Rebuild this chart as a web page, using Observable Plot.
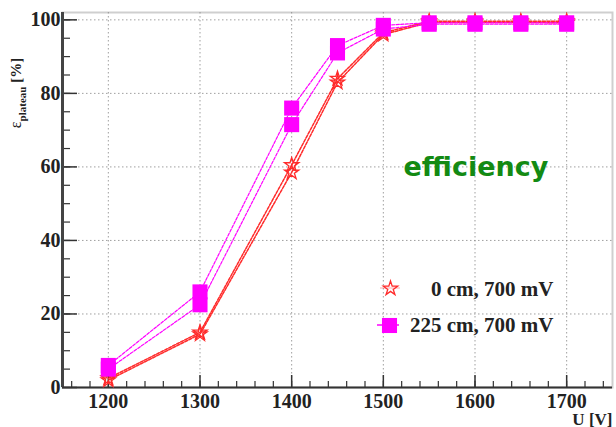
<!DOCTYPE html>
<html>
<head>
<meta charset="utf-8">
<script src="https://cdn.jsdelivr.net/npm/d3@7"></script>
<script src="https://cdn.jsdelivr.net/npm/@observablehq/plot@0.6"></script>
<style>
  html, body { margin: 0; padding: 0; background: #fff; }
</style>
</head>
<body>
<div id="chart"></div>
<script>
// ---- data ----
const voltages = [1200, 1300, 1400, 1450, 1500, 1550, 1600, 1650, 1700];
const eff0cmA   = [2.5, 15.0, 60.5, 84.0, 96.5, 99.6, 99.6, 99.6, 99.6];
const eff0cmB   = [2.0, 14.5, 58.5, 83.0, 96.0, 99.3, 99.3, 99.3, 99.2];
const eff225cmA = [6.0, 26.0, 76.0, 93.0, 98.5, 99.2, 99.2, 99.2, 99.2];
const eff225cmB = [5.0, 22.5, 71.5, 91.0, 97.5, 98.8, 98.8, 98.8, 98.8];

const xDomain = [1150, 1750];
const yDomain = [0, 102];
const xMajor = [1200, 1300, 1400, 1500, 1600, 1700];
const xMinor = d3.range(1160, 1750, 20);
const yMajor = [0, 20, 40, 60, 80, 100];
const yMinor = d3.range(0, 101, 5);
const legendLabels = ["0 cm, 700 mV", "225 cm, 700 mV"];
const xTitle = "U [V]";
const note = "efficiency";

const RED = "#ff2a2a";
const MAG = "#ff00ff";

const stars = [];
const squares = [];
voltages.forEach((v, i) => {
  stars.push({U: v, e: eff0cmA[i], s: "A"});
  stars.push({U: v, e: eff0cmB[i], s: "B"});
  squares.push({U: v, e: eff225cmA[i], s: "A"});
  squares.push({U: v, e: eff225cmB[i], s: "B"});
});

const W = 616, H = 427;
const mL = 62, mR = 4, mT = 12, mB = 40;
const fw = W - mL - mR, fh = H - mT - mB;
const serif = "Liberation Serif, Times New Roman, serif";

const chart = Plot.plot({
  width: W, height: H,
  marginLeft: mL, marginRight: mR, marginTop: mT, marginBottom: mB,
  x: {domain: xDomain},
  y: {domain: yDomain},
  style: {background: "#fff", fontFamily: serif, color: "#222"},
  marks: [
    Plot.frame({stroke: "#cfcfcf", strokeWidth: 2}),
    // dotted grid
    Plot.gridX(xMajor, {stroke: "#888", strokeOpacity: 0.8, strokeDasharray: "1.5,2.5", strokeWidth: 1}),
    Plot.gridY(yMajor.filter(d => d > 0), {stroke: "#888", strokeOpacity: 0.8, strokeDasharray: "1.5,2.5", strokeWidth: 1}),
    // inward ticks
    Plot.ruleX(xMinor, {stroke: "#333", strokeWidth: 1.2, insetTop: fh - 6}),
    Plot.ruleX(xMajor, {stroke: "#333", strokeWidth: 1.5, insetTop: fh - 12}),
    Plot.ruleY(yMinor, {stroke: "#333", strokeWidth: 1.2, insetRight: fw - 8}),
    Plot.ruleY(yMajor, {stroke: "#333", strokeWidth: 1.5, insetRight: fw - 15}),
    // axis lines
    Plot.ruleX([xDomain[0]], {stroke: "#444", strokeWidth: 3}),
    Plot.ruleY([yDomain[0]], {stroke: "#333", strokeWidth: 2}),
    // tick labels
    Plot.axisX(xMajor, {tickSize: 0, tickPadding: 6, fontSize: 20, fontWeight: "bold", label: null, tickFormat: d => String(d)}),
    Plot.axisY(yMajor, {tickSize: 0, tickPadding: 2, fontSize: 20, fontWeight: "bold", label: null, tickFormat: d => String(d)}),
    // series lines
    Plot.line(stars, {x: "U", y: "e", z: "s", stroke: RED, strokeWidth: 1.5, strokeDasharray: "3,1.5"}),
    Plot.line(squares, {x: "U", y: "e", z: "s", stroke: MAG, strokeWidth: 1.2, strokeDasharray: "3,1.5"}),
    // markers
    Plot.dot(stars, {x: "U", y: "e", symbol: "star", r: 4.5, stroke: RED, strokeWidth: 1.3, fill: "none"}),
    Plot.dot(squares, {x: "U", y: "e", symbol: "square", r: 8.5, fill: MAG, stroke: "none"}),
    // legend
    Plot.dot([legendLabels[0]], {frameAnchor: "top-left", dx: 390 - mL, dy: 288 - mT, symbol: "star", r: 4.5, stroke: RED, strokeWidth: 1.3, fill: "none"}),
    Plot.dot([legendLabels[1]], {frameAnchor: "top-left", dx: 389 - mL, dy: 325 - mT, symbol: "square", r: 8.5, fill: MAG, stroke: "none"}),
    Plot.text([legendLabels[0]], {text: d => d, frameAnchor: "top-left", dx: 553 - mL, dy: 295 - mT, textAnchor: "end", lineAnchor: "bottom", fontSize: 21, fontWeight: "bold", fill: "#222"}),
    Plot.text([legendLabels[1]], {text: d => d, frameAnchor: "top-left", dx: 553 - mL, dy: 331 - mT, textAnchor: "end", lineAnchor: "bottom", fontSize: 21, fontWeight: "bold", fill: "#222"}),
    // annotation
    Plot.text([note], {text: d => d, frameAnchor: "top-left", dx: 403 - mL, dy: 175 - mT, textAnchor: "start", lineAnchor: "bottom", fontSize: 27, fontWeight: "bold", fontFamily: "DejaVu Sans, sans-serif", fill: "#138a13"}),
    // x title
    Plot.text([xTitle], {text: d => d, frameAnchor: "bottom-right", dx: 0, dy: 424 - (H - mB), textAnchor: "end", lineAnchor: "bottom", fontSize: 17, fontWeight: "bold", fill: "#222"})
  ]
});

document.getElementById("chart").appendChild(chart);

// legend line segments and rotated y title with subscript
const svg = d3.select(chart);
svg.append("line").attr("x1", 380).attr("x2", 400).attr("y1", 288).attr("y2", 288)
  .attr("stroke", RED).attr("stroke-opacity", 0.35).attr("stroke-width", 1.2);
svg.append("line").attr("x1", 377).attr("x2", 399).attr("y1", 325).attr("y2", 325)
  .attr("stroke", MAG).attr("stroke-width", 1.5).lower();
svg.select("line:first-of-type");
const yt = svg.append("text")
  .attr("transform", "translate(21,93) rotate(-90)")
  .attr("font-family", serif).attr("fill", "#222");
yt.append("tspan").attr("font-size", 16).text("ε");
yt.append("tspan").attr("font-size", 11).attr("font-weight", "bold").attr("dy", 5).text("plateau");
yt.append("tspan").attr("font-size", 15).attr("font-weight", "bold").attr("dy", -5).text(" [%]");
</script>
</body>
</html>
